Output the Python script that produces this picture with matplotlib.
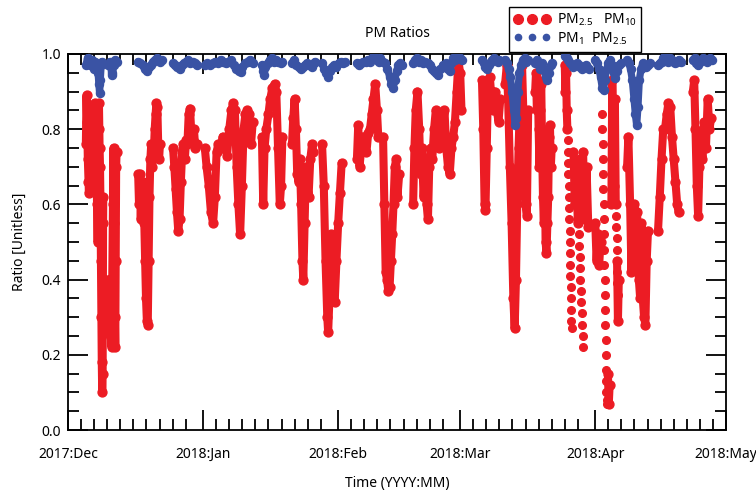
import numpy as np
import matplotlib
matplotlib.use("Agg")
import matplotlib.pyplot as plt
import matplotlib.dates as mdates
from matplotlib.lines import Line2D
from matplotlib.ticker import MultipleLocator, FixedLocator, FormatStrFormatter
import datetime as dt

plt.rcParams['font.family'] = ['Noto Sans', 'DejaVu Sans']
plt.rcParams['mathtext.default'] = 'regular'

START = dt.datetime(2017, 12, 1)
END = dt.datetime(2018, 5, 1)
N = None

# PM2.5/PM10 ratio: days since 2017-12-01 and value (None = data gap)
red_day = [
    4.10, 4.25, 4.40, 4.55, 4.70, 4.80, 4.95, 5.10, 5.30, 5.50, 5.70, 5.90, 6.10, 6.30, 6.50, 6.65, 6.80, 6.90,
    7.00, 7.10, 7.25, 7.35, 7.45, 7.55, 7.65, 7.75, 7.85, 7.95, 8.00, 8.05, 8.10, N,
    9.20, 9.40, 9.60, 9.80, 10.00, 10.15, 10.30, 10.45, 10.60, 10.75, 10.85, 10.95, 11.05, 11.15, N,
    16.1, 16.3, 16.5, 16.7, 16.9, 17.1, 17.3, 17.5, 17.7, 17.9, 18.1, 18.3, 18.5, 18.7, 18.9, 19.1, 19.3, 19.5,
    19.7, 19.9, 20.1, 20.3, 20.5, 20.7, 20.9, 21.1, N,
    24.1, 24.4, 24.7, 25.0, 25.3, 25.6, 25.9, 26.2, 26.5, 26.8, 27.1, 27.4, 27.7, 28.0, 28.3, 28.6, 28.9, 29.2, 29.5, N,
    31.4, 31.8, 32.3, 32.8, 33.3, 33.7, 34.1, 34.5, 35.0, 35.5, 36.0, 36.5, 37.0, 37.5, 37.9, 38.3, 38.7, 39.1,
    39.5, 39.9, 40.3, 40.7, 41.1, 41.5, 42.0, 42.4, N,
    44.5, 44.8, 45.1, 45.5, 46.0, 46.4, 46.9, 47.4, 47.8, 48.2, 48.6, 48.9, 49.2, N,
    51.4, 51.7, 52.0, 52.3, 52.6, 52.9, 53.2, 53.5, 53.8, 54.0, 54.3, 54.6, 54.9, 55.2, 55.6, 56.0, 56.3, N,
    58.3, 58.7, 59.1, 59.5, 59.7, 60.0, 60.3, 60.6, 60.9, 61.2, 61.6, 62.0, 62.4, 62.8, N,
    66.3, 66.6, 66.9, 67.3, 67.7, 68.1, 68.5, 68.9, 69.3, 69.7, 70.1, 70.5, 70.9, 71.2, N,
    72.3, 72.6, 72.9, 73.2, 73.5, 73.8, 74.1, 74.4, 74.7, 75.0, 75.3, 75.6, 76.0, N,
    79.2, 79.5, 79.8, 80.2, 80.6, 80.9, 81.2, 81.6, 82.0, 82.3, 82.6, 82.9, 83.2, 83.6, 84.0, 84.4, 84.8, 85.2, N,
    86.0, 86.4, 86.8, 87.2, 87.6, 88.0, 88.4, 88.8, 89.2, 89.6, 90.0, 90.3, N,
    95.0, 95.3, 95.6, 95.8, 96.1, 96.4, 96.8, 97.2, 97.6, 98.0, 98.4, 98.8, 99.2, N,
    100.3, 100.7, 101.0, 101.4, 101.8, 102.2, 102.5, 102.8, 103.1, 103.4, 103.8, 104.2, 104.6, 105.0, 105.3, 105.6, N,
    107.2, 107.4, 107.6, 107.8, 108.0, 108.2, 108.4, 108.6, 108.8, 109.0, 109.2, 109.4, 109.6, 109.8, 110.0,
    110.2, 110.4, 110.6, 110.8, 111.0, N,
    114.0, 114.15, 114.3, 114.45, 114.6, N,
    116.0, 116.3, 116.6, 117.0, 117.4, 117.8, 118.2, 118.6, 119.0, 119.4, N,
    121.0, 121.3, 121.6, 121.9, 122.2, N,
    123.9, 124.1, 124.3, N,
    124.7, 124.9, 125.1, 125.3, 125.5, 125.7, N,
    126.0, 126.2, 126.4, N,
    128.3, 128.6, 129.0, 129.3, 129.6, 130.0, 130.3, 130.6, 131.0, 131.3, 131.6, 131.9, 132.2, 132.5, 132.8, 133.1, N,
    135.4, 135.8, 136.2, 136.6, 137.0, 137.4, 137.8, 138.2, 138.6, 139.0, 139.4, 139.8, 140.1, N,
    143.4, 143.7, 144.0, 144.3, 144.6, 144.9, 145.2, 145.6, 146.0, 146.4, 146.8, 147.2, 147.6,
]
red_val = [
    0.76, 0.89, 0.82, 0.72, 0.66, 0.63, 0.70, 0.78, 0.86, 0.80, 0.74, 0.84, 0.87, 0.78, 0.72, 0.60, 0.50, 0.62,
    0.80, 0.87, 0.75, 0.70, 0.60, 0.45, 0.30, 0.18, 0.10, 0.15, 0.35, 0.55, 0.62, N,
    0.40, 0.30, 0.38, 0.25, 0.22, 0.40, 0.60, 0.75, 0.55, 0.30, 0.22, 0.45, 0.70, 0.74, N,
    0.68, 0.60, 0.68, 0.56, 0.66, 0.58, 0.66, 0.55, 0.45, 0.35, 0.29, 0.28, 0.45, 0.62, 0.72, 0.76, 0.70, 0.76,
    0.74, 0.80, 0.84, 0.87, 0.86, 0.76, 0.72, 0.76, N,
    0.75, 0.70, 0.64, 0.58, 0.53, 0.56, 0.66, 0.74, 0.76, 0.72, 0.77, 0.76, 0.84, 0.855, 0.79, 0.77, 0.80, 0.75, 0.76, N,
    0.75, 0.70, 0.65, 0.58, 0.55, 0.62, 0.74, 0.76, 0.75, 0.78, 0.76, 0.73, 0.80, 0.85, 0.87, 0.85, 0.70, 0.60,
    0.52, 0.65, 0.80, 0.84, 0.85, 0.84, 0.76, 0.82, N,
    0.78, 0.60, 0.75, 0.80, 0.84, 0.88, 0.91, 0.92, 0.90, 0.75, 0.60, 0.65, 0.78, N,
    0.76, 0.83, 0.88, 0.80, 0.68, 0.66, 0.72, 0.60, 0.45, 0.40, 0.55, 0.70, 0.66, 0.62, 0.72, 0.76, 0.74, N,
    0.76, 0.65, 0.45, 0.30, 0.26, 0.35, 0.52, 0.45, 0.35, 0.34, 0.45, 0.55, 0.63, 0.71, N,
    0.72, 0.81, 0.70, 0.75, 0.78, 0.76, 0.74, 0.79, 0.80, 0.84, 0.88, 0.92, 0.85, 0.78, N,
    0.78, 0.60, 0.42, 0.40, 0.37, 0.38, 0.45, 0.52, 0.60, 0.70, 0.72, 0.62, 0.68, N,
    0.60, 0.75, 0.85, 0.90, 0.80, 0.68, 0.75, 0.62, 0.70, 0.60, 0.56, 0.70, 0.75, 0.72, 0.80, 0.85, 0.82, 0.75, N,
    0.80, 0.85, 0.75, 0.70, 0.68, 0.75, 0.78, 0.82, 0.90, 0.98, 0.95, 0.85, N,
    0.93, 0.80, 0.60, 0.585, 0.75, 0.93, 0.94, 0.88, 0.85, 0.90, 0.85, 0.82, 0.88, N,
    0.92, 0.97, 0.88, 0.70, 0.55, 0.35, 0.27, 0.40, 0.60, 0.75, 0.90, 0.97, 0.80, 0.60, 0.57, 0.85, N,
    0.90, 0.95, 0.85, 0.93, 0.80, 0.70, 0.85, 0.92, 0.75, 0.62, 0.55, 0.70, 0.50, 0.47, 0.55,
    0.62, 0.78, 0.81, 0.70, 0.75, N,
    0.97, 0.90, 0.95, 0.85, 0.80, N,
    0.74, 0.60, 0.70, 0.55, 0.72, 0.58, 0.74, 0.56, 0.70, 0.54, N,
    0.55, 0.45, 0.52, 0.44, 0.50, N,
    0.15, 0.07, 0.12, N,
    0.60, 0.93, 0.80, 0.65, 0.88, 0.60, N,
    0.45, 0.29, 0.40, N,
    0.70, 0.78, 0.60, 0.42, 0.55, 0.60, 0.50, 0.58, 0.40, 0.35, 0.55, 0.35, 0.30, 0.28, 0.45, 0.53, N,
    0.53, 0.62, 0.72, 0.80, 0.80, 0.84, 0.87, 0.86, 0.78, 0.72, 0.66, 0.60, 0.58, N,
    0.90, 0.93, 0.80, 0.65, 0.57, 0.70, 0.78, 0.72, 0.82, 0.75, 0.88, 0.80, 0.83,
]

# isolated (sparse) PM2.5/PM10 points
red_dot_day = [
    114.70, 114.75, 114.80, 114.85, 114.90, 114.95, 115.00, 115.05, 115.10, 115.15, 115.20, 115.25,
    115.30, 115.35, 115.40, 115.45, 115.50, 115.55,
    117.20, 117.30, 117.40, 117.50, 117.60, 117.70, 117.80, 117.90, 118.00, 118.10, 118.20,
    122.60, 122.65, 122.70, 122.75, 122.80, 122.85, 122.90, 122.95, 123.00, 123.05, 123.10, 123.15,
    123.20, 123.25, 123.30, 123.35, 123.40, 123.45, 123.50, 123.55, 123.60, 123.65,
    125.80, 125.85, 125.90, 125.95, 126.00, 126.05, 126.10, 126.15,
]
red_dot_val = [
    0.77, 0.74, 0.71, 0.68, 0.65, 0.62, 0.59, 0.56, 0.53, 0.50, 0.47, 0.44,
    0.41, 0.38, 0.35, 0.32, 0.29, 0.27,
    0.52, 0.49, 0.46, 0.43, 0.40, 0.37, 0.34, 0.31, 0.28, 0.25, 0.22,
    0.84, 0.80, 0.76, 0.72, 0.68, 0.64, 0.60, 0.56, 0.52, 0.48, 0.44, 0.40,
    0.36, 0.32, 0.28, 0.24, 0.20, 0.16, 0.13, 0.10, 0.08, 0.07,
    0.57, 0.54, 0.51, 0.48, 0.45, 0.42, 0.39, 0.36,
]

# PM1/PM2.5 ratio
blue_day = [
    4.1, 4.5, 5.0, 5.5, 6.0, 6.3, 6.6, 6.9, 7.1, 7.25, 7.4, 7.6, 7.8, N,
    9.2, 9.6, 10.0, 10.2, 10.5, 10.9, 11.2, N,
    16.1, 16.6, 17.1, 17.6, 18.1, 18.5, 19.0, 19.5, 20.0, 20.5, 21.0, 21.5, N,
    24.1, 24.6, 25.1, 25.6, 26.1, 26.6, 27.1, 27.6, 28.1, 28.6, 29.1, 29.6, N,
    31.4, 32.0, 32.6, 33.2, 33.8, 34.4, 35.0, 35.6, 36.2, 36.8, 37.4, 38.0, 38.6, 39.2, 39.6, 40.0, 40.6,
    41.2, 41.8, 42.4, N,
    44.5, 44.8, 45.0, 45.3, 45.8, 46.3, 46.8, 47.3, 47.8, 48.3, 48.8, 49.2, N,
    51.4, 51.9, 52.4, 52.9, 53.4, 53.9, 54.4, 54.9, 55.4, 55.9, 56.4, 56.7, N,
    58.3, 58.8, 59.3, 59.7, 60.1, 60.6, 61.1, 61.6, 62.1, 62.6, 63.1, 63.6, N,
    66.3, 66.8, 67.3, 67.8, 68.3, 68.8, 69.3, 69.8, 70.3, 70.8, 71.3, 71.6, N,
    72.3, 72.8, 73.3, 73.8, 74.2, 74.6, 75.0, 75.4, 75.8, 76.2, 76.6, N,
    79.2, 79.6, 80.0, 80.5, 81.0, 81.5, 82.0, 82.5, 83.0, 83.5, 84.0, 84.5, 84.9, 85.3, N,
    86.0, 86.4, 86.8, 87.2, 87.6, 88.0, 88.4, 88.8, 89.2, 89.6, 90.0, 90.4, N,
    95.0, 95.4, 95.8, 96.2, 96.6, 97.0, 97.4, 97.8, 98.2, 98.6, 99.0, N,
    100.3, 100.7, 101.1, 101.5, 101.9, 102.3, 102.6, 102.9, 103.2, 103.6, 104.0, 104.4, 104.8, 105.2, 105.6, N,
    107.2, 107.6, 108.0, 108.4, 108.8, 109.2, 109.6, 110.0, 110.4, 110.8, 111.1, N,
    114.0, 114.4, 114.8, 115.2, 115.6, 116.0, 116.4, 116.8, 117.2, 117.6, 118.0, 118.4, 118.8, 119.2, 119.6, N,
    121.0, 121.4, 121.8, 122.2, 122.6, 122.9, 123.2, 123.6, 124.0, 124.4, 124.8, 125.2, 125.6, 126.0, 126.4, 126.8, N,
    128.3, 128.7, 129.1, 129.5, 129.9, 130.2, 130.5, 130.8, 131.1, 131.5, 131.9, 132.3, 132.7, 133.1, 133.5, N,
    135.4, 135.8, 136.2, 136.6, 137.0, 137.4, 137.8, 138.2, 138.6, 139.0, 139.4, 139.8, 140.2, 140.6, N,
    143.4, 143.8, 144.2, 144.6, 145.0, 145.4, 145.8, 146.2, 146.6, 147.0, 147.4, 147.8,
]
blue_val = [
    0.97, 0.99, 0.97, 0.985, 0.96, 0.98, 0.97, 0.95, 0.92, 0.895, 0.93, 0.97, 0.98, N,
    0.97, 0.98, 0.95, 0.945, 0.97, 0.985, 0.98, N,
    0.98, 0.975, 0.97, 0.96, 0.955, 0.965, 0.97, 0.98, 0.985, 0.99, 0.98, 0.985, N,
    0.975, 0.97, 0.965, 0.96, 0.97, 0.975, 0.98, 0.985, 0.975, 0.98, 0.975, 0.97, N,
    0.97, 0.975, 0.97, 0.975, 0.98, 0.975, 0.985, 0.98, 0.975, 0.98, 0.985, 0.97, 0.96, 0.955, 0.952, 0.965, 0.975,
    0.98, 0.985, 0.975, N,
    0.97, 0.955, 0.945, 0.965, 0.975, 0.985, 0.99, 0.98, 0.985, 0.98, 0.975, 0.98, N,
    0.975, 0.985, 0.97, 0.965, 0.96, 0.965, 0.97, 0.975, 0.97, 0.965, 0.975, 0.98, N,
    0.975, 0.96, 0.95, 0.94, 0.955, 0.965, 0.97, 0.965, 0.975, 0.98, 0.975, 0.98, N,
    0.975, 0.97, 0.975, 0.98, 0.98, 0.985, 0.98, 0.99, 0.995, 0.985, 0.98, 0.99, N,
    0.98, 0.975, 0.96, 0.94, 0.92, 0.91, 0.93, 0.955, 0.97, 0.975, 0.97, N,
    0.975, 0.985, 0.99, 0.98, 0.985, 0.975, 0.98, 0.975, 0.97, 0.96, 0.955, 0.95, 0.945, 0.96, N,
    0.97, 0.965, 0.975, 0.96, 0.955, 0.975, 0.99, 0.985, 0.99, 0.995, 0.99, 0.985, N,
    0.985, 0.975, 0.965, 0.96, 0.97, 0.98, 0.985, 0.99, 0.985, 0.98, 0.985, N,
    0.985, 0.975, 0.96, 0.94, 0.90, 0.85, 0.81, 0.83, 0.90, 0.95, 0.97, 0.985, 0.99, 0.98, 0.985, N,
    0.975, 0.985, 0.97, 0.96, 0.975, 0.96, 0.94, 0.93, 0.95, 0.97, 0.975, N,
    0.995, 0.99, 0.985, 0.975, 0.97, 0.965, 0.97, 0.975, 0.97, 0.965, 0.96, 0.965, 0.97, 0.965, 0.96, N,
    0.985, 0.975, 0.96, 0.94, 0.91, 0.905, 0.93, 0.96, 0.975, 0.985, 0.97, 0.95, 0.935, 0.955, 0.97, 0.975, N,
    0.985, 0.975, 0.96, 0.93, 0.88, 0.84, 0.81, 0.86, 0.93, 0.96, 0.975, 0.97, 0.965, 0.97, 0.975, N,
    0.97, 0.975, 0.98, 0.99, 0.995, 0.985, 0.98, 0.99, 0.985, 0.98, 0.975, 0.98, 0.985, 0.98, N,
    0.985, 0.99, 0.975, 0.97, 0.98, 0.985, 0.99, 0.985, 0.98, 0.985, 0.99, 0.985,
]

RED = '#EC1C24'
BLUE = '#3A53A4'


def to_num(days):
    base = mdates.date2num(START)
    return np.array([np.nan if d is None else base + d for d in days], dtype=float)


def to_val(vals):
    return np.array([np.nan if v is None else v for v in vals], dtype=float)


fig = plt.figure(figsize=(7.56, 4.93), dpi=100)
ax = fig.add_axes([68 / 756, 1 - 430 / 493, 658 / 756, 376 / 493])

ax.plot(to_num(red_day), to_val(red_val), '-', color=RED, lw=5.8, marker='o', ms=6.4,
        solid_capstyle='round', solid_joinstyle='round', zorder=2)
ax.plot(to_num(red_dot_day), to_val(red_dot_val), 'o', color=RED, ms=5.5, zorder=2)
ax.plot(to_num(blue_day), to_val(blue_val), '-', color=BLUE, lw=5.2, marker='o', ms=5.8,
        solid_capstyle='round', solid_joinstyle='round', zorder=3)

ax.set_xlim(mdates.date2num(START), mdates.date2num(END))
ax.set_ylim(0, 1)

# ticks
months = [dt.datetime(2017, 12, 1), dt.datetime(2018, 1, 1), dt.datetime(2018, 2, 1),
          dt.datetime(2018, 3, 1), dt.datetime(2018, 4, 1), dt.datetime(2018, 5, 1)]
minor = []
for a, b in zip(months[:-1], months[1:]):
    t = a + dt.timedelta(days=3)
    while (b - t).days >= 2:
        minor.append(mdates.date2num(t))
        t += dt.timedelta(days=3)
ax.xaxis.set_major_locator(FixedLocator(mdates.date2num(months)))
ax.xaxis.set_minor_locator(FixedLocator(minor))
ax.xaxis.set_major_formatter(mdates.DateFormatter('%Y:%b'))
ax.yaxis.set_major_locator(MultipleLocator(0.2))
ax.yaxis.set_minor_locator(MultipleLocator(0.05))
ax.yaxis.set_major_formatter(FormatStrFormatter('%.1f'))

ax.tick_params(which='both', direction='in', top=True, right=True, width=1.3, labelsize=10)
ax.tick_params(which='major', length=14.5)
ax.tick_params(which='minor', length=8)
ax.tick_params(axis='x', which='major', pad=12)
ax.tick_params(axis='y', which='major', pad=5)
for s in ax.spines.values():
    s.set_linewidth(1.3)

ax.set_ylabel('Ratio [Unitless]', fontsize=10)
ax.yaxis.set_label_coords(-0.062, 0.5)
ax.set_xlabel('Time (YYYY:MM)', fontsize=10)
ax.xaxis.set_label_coords(0.5, -0.122)
ax.set_title('PM Ratios', fontsize=10, pad=12)

handles = [Line2D([], [], color=RED, marker='o', ls='none', ms=7),
           Line2D([], [], color=BLUE, marker='o', ls='none', ms=4.5)]
labels = [r'PM$_{2.5}$   PM$_{10}$', r'PM$_{1}$  PM$_{2.5}$']
leg = fig.legend(handles, labels, numpoints=3, loc='upper left', bbox_to_anchor=(0.673, 0.986),
                 frameon=True, fancybox=False, edgecolor='black', framealpha=1, fontsize=10,
                 borderpad=0.35, labelspacing=0.15, handlelength=2.6, handletextpad=0.5,
                 borderaxespad=0)
leg.get_frame().set_linewidth(1.0)

fig.savefig('out.png', dpi=100)
